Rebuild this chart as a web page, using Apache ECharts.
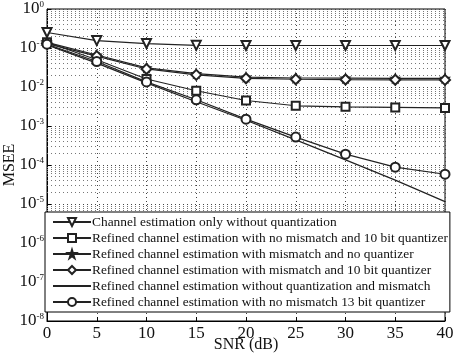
<!DOCTYPE html>
<html>
<head>
<meta charset="utf-8">
<script src="https://cdn.jsdelivr.net/npm/echarts@6/dist/echarts.min.js"></script>
<style>
html,body{margin:0;padding:0;background:#fff;}
#main{width:458px;height:356px;}
</style>
</head>
<body>
<div id="main"></div>
<script>
// SNR points (dB)
const snr = [0, 5, 10, 15, 20, 25, 30, 35, 40];
// MSEE for each curve
const onlyNoQuant = [0.25, 0.155, 0.13, 0.117, 0.116, 0.116, 0.116, 0.116, 0.116];
const noMis10bit = [0.14, 0.05, 0.016, 0.008, 0.0045, 0.0033, 0.0031, 0.003, 0.0029];
const misNoQuant = [0.14, 0.066, 0.031, 0.022, 0.018, 0.017, 0.0168, 0.0167, 0.0167];
const mis10bit = [0.13, 0.062, 0.029, 0.0205, 0.0167, 0.0158, 0.0155, 0.0153, 0.0152];
const noQuantNoMis = [0.12, 0.041, 0.0128, 0.0042, 0.0014, 0.00044, 0.000135, 0.000041, 0.0000115];
const noMis13bit = [0.125, 0.045, 0.0135, 0.0047, 0.0015, 0.00052, 0.00019, 0.000088, 0.000058];

const names = [
  'Channel estimation only without quantization',
  'Refined channel estimation with no mismatch and 10 bit quantizer',
  'Refined channel estimation with mismatch and no quantizer',
  'Refined channel estimation with mismatch and 10 bit quantizer',
  'Refined channel estimation without quantization and mismatch',
  'Refined channel estimation with no mismatch 13 bit quantizer'
];

const serif = "'Liberation Serif', 'DejaVu Serif', serif";
const starPath = 'path://M50,0 L61,35 L98,35 L68,57 L79,91 L50,70 L21,91 L32,57 L2,35 L39,35 Z';

const pairs = arr => snr.map((x, i) => [x, arr[i]]);

// log minor grid lines (2..9 in every decade)
const minorLines = [];
for (let e = -8; e < 0; e++) {
  for (let m = 2; m <= 9; m++) {
    const v = m * Math.pow(10, e);
    minorLines.push([{ coord: [0, v] }, { coord: [40, v] }]);
  }
}

const chart = echarts.init(document.getElementById('main'));

const mkSeries = (name, arr, symbol, opts) => Object.assign({
  name: name,
  type: 'line',
  data: pairs(arr),
  symbol: symbol,
  symbolSize: 8,
  showSymbol: true,
  lineStyle: { color: '#222', width: 1.2 },
  itemStyle: { color: '#222', borderColor: '#222', borderWidth: 1.1 },
  emphasis: { disabled: true },
  z: 3
}, opts || {});

chart.setOption({
  animation: false,
  backgroundColor: '#fff',
  grid: {
    left: 47, right: 13, top: 9, bottom: 35,
    containLabel: false,
    outerBoundsMode: 'none',
    show: true, borderColor: '#000', borderWidth: 1, backgroundColor: '#fff'
  },
  legend: {
    data: names,
    orient: 'vertical',
    left: 45,
    top: 212,
    padding: [3, 2, 3, 7],
    itemGap: 2,
    itemWidth: 38,
    itemHeight: 10,
    backgroundColor: '#fff',
    borderColor: '#000',
    borderWidth: 1,
    borderRadius: 0,
    selectedMode: false,
    symbolRotate: 'inherit',
    textStyle: { fontFamily: serif, fontSize: 13.4, color: '#111', lineHeight: 14, padding: [0, 0, 0, -4] }
  },
  xAxis: {
    type: 'value',
    min: 0, max: 40, interval: 5,
    name: 'SNR (dB)',
    nameLocation: 'middle',
    nameGap: 16,
    nameMoveOverlap: false,
    nameTextStyle: { fontFamily: serif, fontSize: 16, color: '#111' },
    axisLine: { lineStyle: { color: '#000', width: 1 } },
    axisTick: { inside: true, length: 4, lineStyle: { color: '#000' } },
    axisLabel: { fontFamily: serif, fontSize: 17, color: '#111', margin: 4 },
    splitLine: { show: true, lineStyle: { color: '#444', type: [1, 3], width: 1 } }
  },
  yAxis: {
    type: 'log',
    logBase: 10,
    min: 1e-8, max: 1,
    name: 'MSEE',
    nameLocation: 'middle',
    nameGap: 29,
    nameMoveOverlap: false,
    nameTextStyle: { fontFamily: serif, fontSize: 16, color: '#111' },
    axisLine: { lineStyle: { color: '#000', width: 1 } },
    axisTick: { inside: true, length: 4, lineStyle: { color: '#000' } },
    axisLabel: {
      margin: 3,
      formatter: v => '{b|10}{s|' + Math.round(Math.log10(v)) + '}',
      rich: {
        b: { fontFamily: serif, fontSize: 17, color: '#111', lineHeight: 18 },
        s: { fontFamily: serif, fontSize: 9, color: '#111', verticalAlign: 'top', lineHeight: 10 }
      }
    },
    splitLine: { show: true, lineStyle: { color: '#444', type: [1, 3], width: 1 } }
  },
  series: [
    mkSeries(names[0], onlyNoQuant, 'emptyTriangle', { symbolRotate: 180, symbolSize: 9 }),
    mkSeries(names[1], noMis10bit, 'emptyRect', { symbolSize: 8 }),
    mkSeries(names[2], misNoQuant, starPath, { symbolSize: 9 }),
    mkSeries(names[3], mis10bit, 'emptyDiamond', { symbolSize: 10 }),
    mkSeries(names[4], noQuantNoMis, 'circle', {
      showSymbol: false,
      itemStyle: { color: '#222', opacity: 0 },
      markLine: {
        silent: true,
        symbol: 'none',
        label: { show: false },
        lineStyle: { color: '#777', type: [1, 3], width: 1, opacity: 1 },
        data: minorLines,
        z: 1
      }
    }),
    mkSeries(names[5], noMis13bit, 'emptyCircle', { symbolSize: 9 })
  ]
});
</script>
</body>
</html>
